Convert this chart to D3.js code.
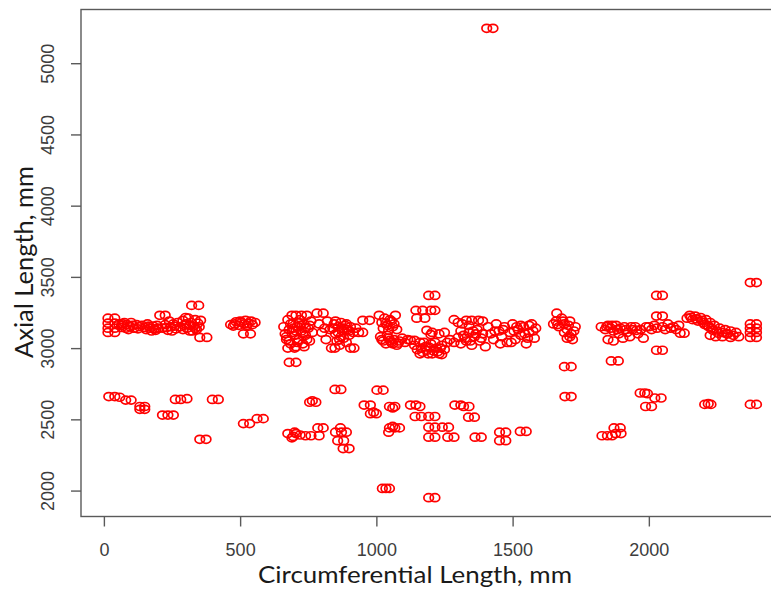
<!DOCTYPE html>
<html>
<head>
<meta charset="utf-8">
<script src="https://cdn.jsdelivr.net/npm/d3@7"></script>
<style>
  html, body { margin: 0; padding: 0; background: #fff; }
  svg { display: block; }
</style>
</head>
<body>
<svg id="chart" width="771" height="594"></svg>
<script>
// Measured defect positions: [circumferential length (mm), axial length (mm)]
const upperBand = [
  [15,3210],[40,3210],[15,3175],[40,3175],[15,3140],[40,3140],[15,3110],[40,3110],
  [55,3170],[65,3160],[75,3180],[85,3165],[95,3150],[100,3180],[110,3140],[120,3165],[130,3150],[80,3140],[65,3145],[90,3130],[70,3170],[105,3160],[125,3135],
  [140,3160],[150,3145],[160,3170],[170,3140],[180,3155],[190,3125],[200,3140],[175,3120],[155,3130],[195,3160],[165,3155],[185,3135],
  [205,3230],[225,3230],[215,3140],[225,3165],[235,3125],[245,3150],[255,3170],[265,3135],[270,3180],[280,3150],[250,3120],[240,3190],[230,3145],[260,3155],
  [290,3195],[300,3170],[305,3140],[310,3210],[315,3120],[320,3180],[330,3155],[335,3200],[340,3130],[345,3175],[350,3150],[355,3195],[290,3130],[300,3215],[325,3120],[295,3160],[315,3160],[335,3140],
  [322,3300],[348,3300],[352,3075],[378,3075],
  [465,3165],[480,3170],[495,3160],[505,3180],[515,3170],[530,3175],[545,3165],[500,3190],[520,3195],[540,3190],[485,3185],[555,3180],[512,3100],[538,3100],[475,3155],[525,3160],
  [660,3150],[665,3100],[670,3060],[675,3200],[680,3130],[685,3030],[690,3230],[695,3175],[700,3090],[705,3010],[710,3150],[715,3060],[720,3200],[725,3120],[730,3030],[735,3170],[740,3090],[745,3230],[750,3140],[755,3050],[760,3190],[765,3110],[705,3230],[725,3230],[670,3080],[690,3110],[720,3160],[740,3140],[675,3000],[700,3000],
  [685,3170],[695,3140],[705,3120],[715,3180],[730,3100],[745,3060],[755,3160],[680,3050],[710,3040],[735,3010],
  [680,2900],[705,2900],
  [782,3245],[805,3245],[790,3170],[800,3110],[810,3140],[815,3060],[820,3190],[830,3130],[845,3170],[850,3100],[855,3050],[860,3150],[865,3020],[870,3180],[875,3120],[880,3070],[885,3160],[890,3040],[895,3130],[900,3090],[905,3150],[915,3110],[925,3140],[835,3000],[848,3000],[905,3000],[918,3000],
  [840,3140],[860,3110],[870,3080],[880,3140],[890,3170],[900,3120],[850,3190],[865,3060],
  [935,3110],[950,3110],[950,3195],[975,3195],
  [1010,3230],[1020,3180],[1025,3140],[1030,3210],[1040,3160],[1045,3125],[1055,3190],[1060,3150],[1070,3230],[1075,3130],[1015,3080],[1025,3050],[1035,3030],[1045,3070],[1055,3040],[1065,3060],[1075,3020],[1085,3050],[1095,3070],[1105,3040],[1115,3060],[1040,3090],[1125,3055],[1140,3055],
  [1035,3175],[1050,3200],[1065,3170],[1020,3060],[1050,3055],[1080,3035],[1060,3030],
  [1145,3265],[1170,3265],[1148,3210],[1178,3210],[1192,3370],[1215,3370],[1200,3265],[1215,3265],
  [1185,3125],[1205,3110],[1230,3100],[1250,3110],[1200,3095],[1140,3020],[1150,2990],[1160,3040],[1170,2970],[1180,3010],[1190,2960],[1200,3030],[1210,2980],[1220,3000],[1230,2960],[1240,3020],[1250,2990],[1260,3040],[1175,3040],[1215,3040],[1160,2960],[1240,2955],
  [1165,3000],[1185,2985],[1195,3005],[1225,2975],[1235,3000],[1205,2960],
  [1270,3060],[1285,3040],[1300,3075],[1285,3200],[1300,3180],[1315,3170],[1330,3195],[1350,3195],[1375,3195],[1390,3190],[1310,3120],[1320,3090],[1330,3050],[1340,3110],[1350,3020],[1360,3080],[1370,3130],[1380,3050],[1390,3100],[1400,3010],[1310,3030],[1340,3160],
  [1325,3070],[1345,3050],[1365,3100],[1385,3070],[1355,3120],
  [1410,3150],[1420,3100],[1430,3060],[1440,3170],[1450,3120],[1460,3080],[1470,3150],[1480,3040],[1490,3110],[1500,3170],[1510,3060],[1520,3130],[1530,3090],[1540,3150],[1550,3030],[1560,3110],[1570,3170],[1580,3070],[1585,3140],[1455,3030],[1495,3040],[1530,3160],[1560,3160],
  [1435,3120],[1465,3130],[1505,3120],[1515,3150],[1545,3100],[1555,3070],[1575,3120],
  [1662,3245],[1650,3170],[1660,3190],[1670,3150],[1680,3210],[1690,3170],[1700,3130],[1710,3190],[1715,3100],[1720,3060],[1730,3150],[1700,3070],[1690,3110],
  [1665,3165],[1685,3190],[1705,3160],[1725,3120],[1710,3080],
  [1690,2870],[1715,2870],
  [1825,3150],[1840,3130],[1850,3160],[1860,3140],[1870,3120],[1880,3160],[1890,3100],[1895,3140],[1905,3070],[1910,3150],[1920,3110],[1930,3080],[1940,3130],[1950,3150],[1960,3100],[1970,3130],[1980,3070],[1990,3150],[1850,3060],[1870,3050],
  [1845,3150],[1865,3160],[1885,3130],[1915,3130],[1935,3150],[1955,3125],
  [1862,2910],[1888,2910],
  [2000,3150],[2010,3130],[2020,3160],[2030,3140],[2050,3150],[2060,3130],[2070,3170],[2080,3140],[2090,3150],[2100,3130],[2110,3160],[2115,3105],[2130,3105],
  [2028,3370],[2050,3370],[2028,3225],[2050,3225],[2028,2985],[2050,2985],
  [2140,3210],[2150,3230],[2160,3200],[2170,3225],[2180,3190],[2190,3215],[2200,3180],[2210,3200],[2215,3160],[2225,3180],[2230,3140],[2240,3160],[2250,3120],[2260,3140],[2270,3110],[2280,3130],[2290,3100],[2300,3120],[2310,3090],[2320,3110],[2330,3080],[2225,3090],[2245,3080],[2270,3080],[2300,3075],
  [2155,3215],[2175,3205],[2195,3195],[2205,3165],[2220,3150],[2235,3125],[2255,3105],[2285,3100],
  [2372,3460],[2395,3460],[2372,3170],[2395,3170],[2372,3140],[2395,3140],[2372,3110],[2395,3110],[2372,3075],[2395,3075]
];

const lowerBand = [
  [18,2660],[40,2660],[58,2655],[80,2635],[100,2635],[132,2590],[150,2590],[132,2570],[150,2570],
  [215,2530],[235,2530],[255,2530],[262,2640],[282,2640],[305,2645],[398,2640],[420,2640],[352,2360],[375,2360],
  [512,2470],[535,2470],[562,2505],[585,2505],
  [675,2400],[695,2380],[705,2400],[690,2370],[700,2410],[720,2390],[740,2385],[760,2385],[790,2385],[785,2440],[805,2440],[755,2620],[778,2620],[765,2630],
  [848,2710],[870,2710],[850,2410],[872,2410],[890,2410],[858,2350],[880,2350],[878,2295],[900,2295],[868,2440],
  [955,2600],[978,2600],[978,2540],[1000,2540],[990,2550],[1002,2705],[1025,2705],[1048,2590],[1068,2590],[1060,2580],
  [1048,2440],[1068,2440],[1060,2450],[1045,2410],[1085,2440],[1022,2015],[1035,2015],[1048,2015],
  [1125,2600],[1145,2600],[1160,2590],[1142,2520],[1165,2520],[1192,2520],[1215,2520],[1192,2445],[1215,2445],[1192,2375],[1215,2375],
  [1242,2445],[1265,2445],[1262,2375],[1285,2375],[1288,2600],[1310,2600],[1320,2590],[1340,2590],[1338,2515],[1360,2515],[1362,2375],[1385,2375],
  [1452,2410],[1475,2410],[1452,2350],[1475,2350],[1528,2415],[1550,2415],[1192,1950],[1215,1950],
  [1692,2660],[1715,2660],
  [1828,2385],[1848,2385],[1865,2385],[1872,2440],[1895,2440],[1878,2400],[1898,2400],
  [1968,2685],[1985,2685],[1995,2680],[2022,2650],[2045,2650],[1988,2590],[2010,2590],[2205,2605],[2228,2605],[2218,2610],[2372,2605],[2395,2605]
];

const outliers = [
  [1405,5245],[1428,5245]
];

const xTicks = [0, 500, 1000, 1500, 2000];
const yTicks = [2000, 2500, 3000, 3500, 4000, 4500, 5000];

const xTitle = "Circumferential Length, mm";
const yTitle = "Axial Length, mm";

const svg = d3.select("#chart");

// Plot region (right edge runs past the page width)
const plotLeft = 81, plotRight = 781, plotTop = 9.5, plotBottom = 516.5;

const x = d3.scaleLinear().domain([-84, 2485]).range([plotLeft, plotRight]);
const y = d3.scaleLinear().domain([1818, 5377]).range([plotBottom, plotTop]);

const axisColor = "#5a5a5a";
const tickTextColor = "#3d3d3d";

// Frame
svg.append("rect")
  .attr("x", plotLeft).attr("y", plotTop)
  .attr("width", plotRight - plotLeft).attr("height", plotBottom - plotTop)
  .attr("fill", "none").attr("stroke", axisColor).attr("stroke-width", 1.4);

// X axis
const gx = svg.append("g")
  .attr("transform", `translate(0,${plotBottom})`)
  .call(d3.axisBottom(x).tickValues(xTicks).tickSize(10).tickFormat(d3.format("d")));
gx.select(".domain").remove();
gx.selectAll(".tick line").attr("stroke", axisColor).attr("stroke-width", 1.4);
gx.selectAll(".tick text")
  .attr("y", 39).attr("dy", 0)
  .attr("fill", tickTextColor)
  .style("font-family", "'Liberation Sans', Arial, sans-serif")
  .style("font-size", "18px");

// Y axis with labels written parallel to the axis
const gy = svg.append("g")
  .attr("transform", `translate(${plotLeft},0)`)
  .call(d3.axisLeft(y).tickValues(yTicks).tickSize(10).tickFormat(d3.format("d")));
gy.select(".domain").remove();
gy.selectAll(".tick line").attr("stroke", axisColor).attr("stroke-width", 1.4);
gy.selectAll(".tick text")
  .attr("transform", "rotate(-90)")
  .attr("x", 0).attr("y", -27).attr("dy", 0)
  .attr("text-anchor", "middle")
  .attr("fill", tickTextColor)
  .style("font-family", "'Liberation Sans', Arial, sans-serif")
  .style("font-size", "18px");

// Axis titles
svg.append("text")
  .attr("x", 415).attr("y", 583)
  .attr("text-anchor", "middle")
  .attr("fill", "#1a1a1a")
  .attr("textLength", 314).attr("lengthAdjust", "spacingAndGlyphs")
  .style("font-family", "Lato, 'Open Sans', sans-serif")
  .style("font-size", "24px")
  .text(xTitle);

svg.append("text")
  .attr("transform", "translate(33,262) rotate(-90)")
  .attr("text-anchor", "middle")
  .attr("fill", "#1a1a1a")
  .attr("textLength", 192).attr("lengthAdjust", "spacingAndGlyphs")
  .style("font-family", "Lato, 'Open Sans', sans-serif")
  .style("font-size", "25px")
  .text(yTitle);

// Points: open red markers
const allPoints = upperBand.concat(lowerBand, outliers);
svg.append("g")
  .selectAll("ellipse")
  .data(allPoints)
  .join("ellipse")
  .attr("cx", d => x(d[0]))
  .attr("cy", d => y(d[1]))
  .attr("rx", 4.8)
  .attr("ry", 4.0)
  .attr("fill", "none")
  .attr("stroke", "#ff0000")
  .attr("stroke-width", 1.7);
</script>
</body>
</html>
